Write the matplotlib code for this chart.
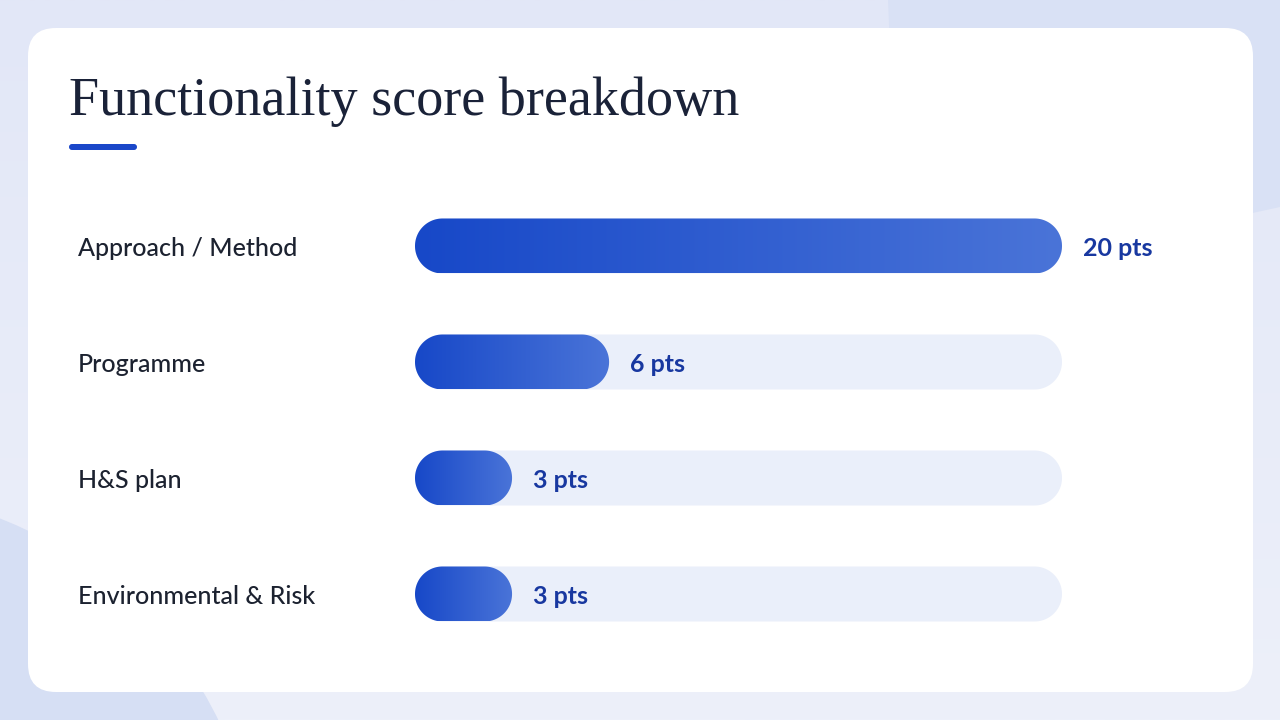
import numpy as np
import matplotlib.pyplot as plt
from matplotlib.patches import FancyBboxPatch, Polygon, Circle
from matplotlib.colors import LinearSegmentedColormap

# chart data
categories = ["Approach / Method", "Programme", "H&S plan", "Environmental & Risk"]
points = [20, 6, 3, 3]
max_points = 20
title = "Functionality score breakdown"

W, H = 1280, 720
fig = plt.figure(figsize=(W / 100, H / 100), dpi=100)

# background layer in pixel coordinates
bg = fig.add_axes([0, 0, 1, 1])
bg.set_xlim(0, W)
bg.set_ylim(H, 0)
bg.axis("off")
grad = np.linspace(0, 1, 256).reshape(-1, 1)
bg_cmap = LinearSegmentedColormap.from_list("bg", ["#e2e7f7", "#edf0fa"])
bg.imshow(grad, cmap=bg_cmap, extent=[0, W, H, 0], aspect="auto", zorder=0)
bg.add_patch(Polygon([(888, 0), (W, 0), (W, 207), (900, 290)],
                     closed=True, color="#d9e1f5", lw=0, zorder=1))
bg.add_patch(Circle((-150, 900), 410, color="#d6dff4", lw=0, zorder=1))

# white card
card = FancyBboxPatch((28, 28), 1225, 664, boxstyle="round,pad=0,rounding_size=28",
                      facecolor="white", edgecolor="none", zorder=2)
bg.add_patch(card)

# title and underline
bg.text(69, 115, title, family="Liberation Serif", fontsize=39, color="#1a2238",
        va="baseline", ha="left", zorder=3)
bg.add_patch(FancyBboxPatch((69, 144), 68, 6, boxstyle="round,pad=0,rounding_size=3",
                            facecolor="#1a47c9", edgecolor="none", zorder=3))

# category labels
row_y = [246, 362, 478, 594]
for label, y in zip(categories, row_y):
    bg.text(78, y, label, family="Lato", fontsize=18, fontweight="medium",
            color="#1c2230", va="center_baseline", ha="left", zorder=3)

# bar axes: x in points, y in rows
left_px, right_px = 415, 1062
top_px, bot_px = 246 - 58, 594 + 58
ax = fig.add_axes([left_px / W, 1 - bot_px / H, (right_px - left_px) / W,
                   (bot_px - top_px) / H])
ax.set_xlim(0, max_points)
ax.set_ylim(len(categories) - 0.5, -0.5)
ax.axis("off")
ax.patch.set_alpha(0)

px_per_x = (right_px - left_px) / max_points
px_per_y = (bot_px - top_px) / len(categories)
half_h = 27.5 / px_per_y
rx = 27.5 / px_per_x


def pill(x0, x1, yc):
    # rounded bar outline with true semicircle ends (circular on screen)
    t = np.linspace(-np.pi / 2, np.pi / 2, 60)
    right = np.column_stack([x1 - rx + rx * np.cos(t), yc + half_h * np.sin(t)])
    left = np.column_stack([x0 + rx - rx * np.cos(t[::-1]), yc + half_h * np.sin(t[::-1])])
    return np.vstack([right, left])


bar_cmap = LinearSegmentedColormap.from_list("bar", ["#1748c8", "#4a74d8"])
hgrad = np.linspace(0, 1, 256).reshape(1, -1)

for i, v in enumerate(points):
    # track
    ax.add_patch(Polygon(pill(0, max_points, i), closed=True,
                         facecolor="#eaeffa", edgecolor="none", zorder=1))
    # value bar with gradient
    bar = Polygon(pill(0, v, i), closed=True, facecolor="none",
                  edgecolor="none", zorder=2)
    ax.add_patch(bar)
    im = ax.imshow(hgrad, cmap=bar_cmap, extent=[0, v, i + half_h, i - half_h],
                   aspect="auto", zorder=2)
    im.set_clip_path(bar)
    ax.annotate(f"{v} pts", (v, i), xytext=(15, 0), textcoords="offset points",
                family="Lato", fontweight="bold", fontsize=18, color="#1838a0",
                va="center_baseline", ha="left", zorder=3)

ax.set_xlim(0, max_points)
ax.set_ylim(len(categories) - 0.5, -0.5)

fig.savefig("out.png", dpi=100)
